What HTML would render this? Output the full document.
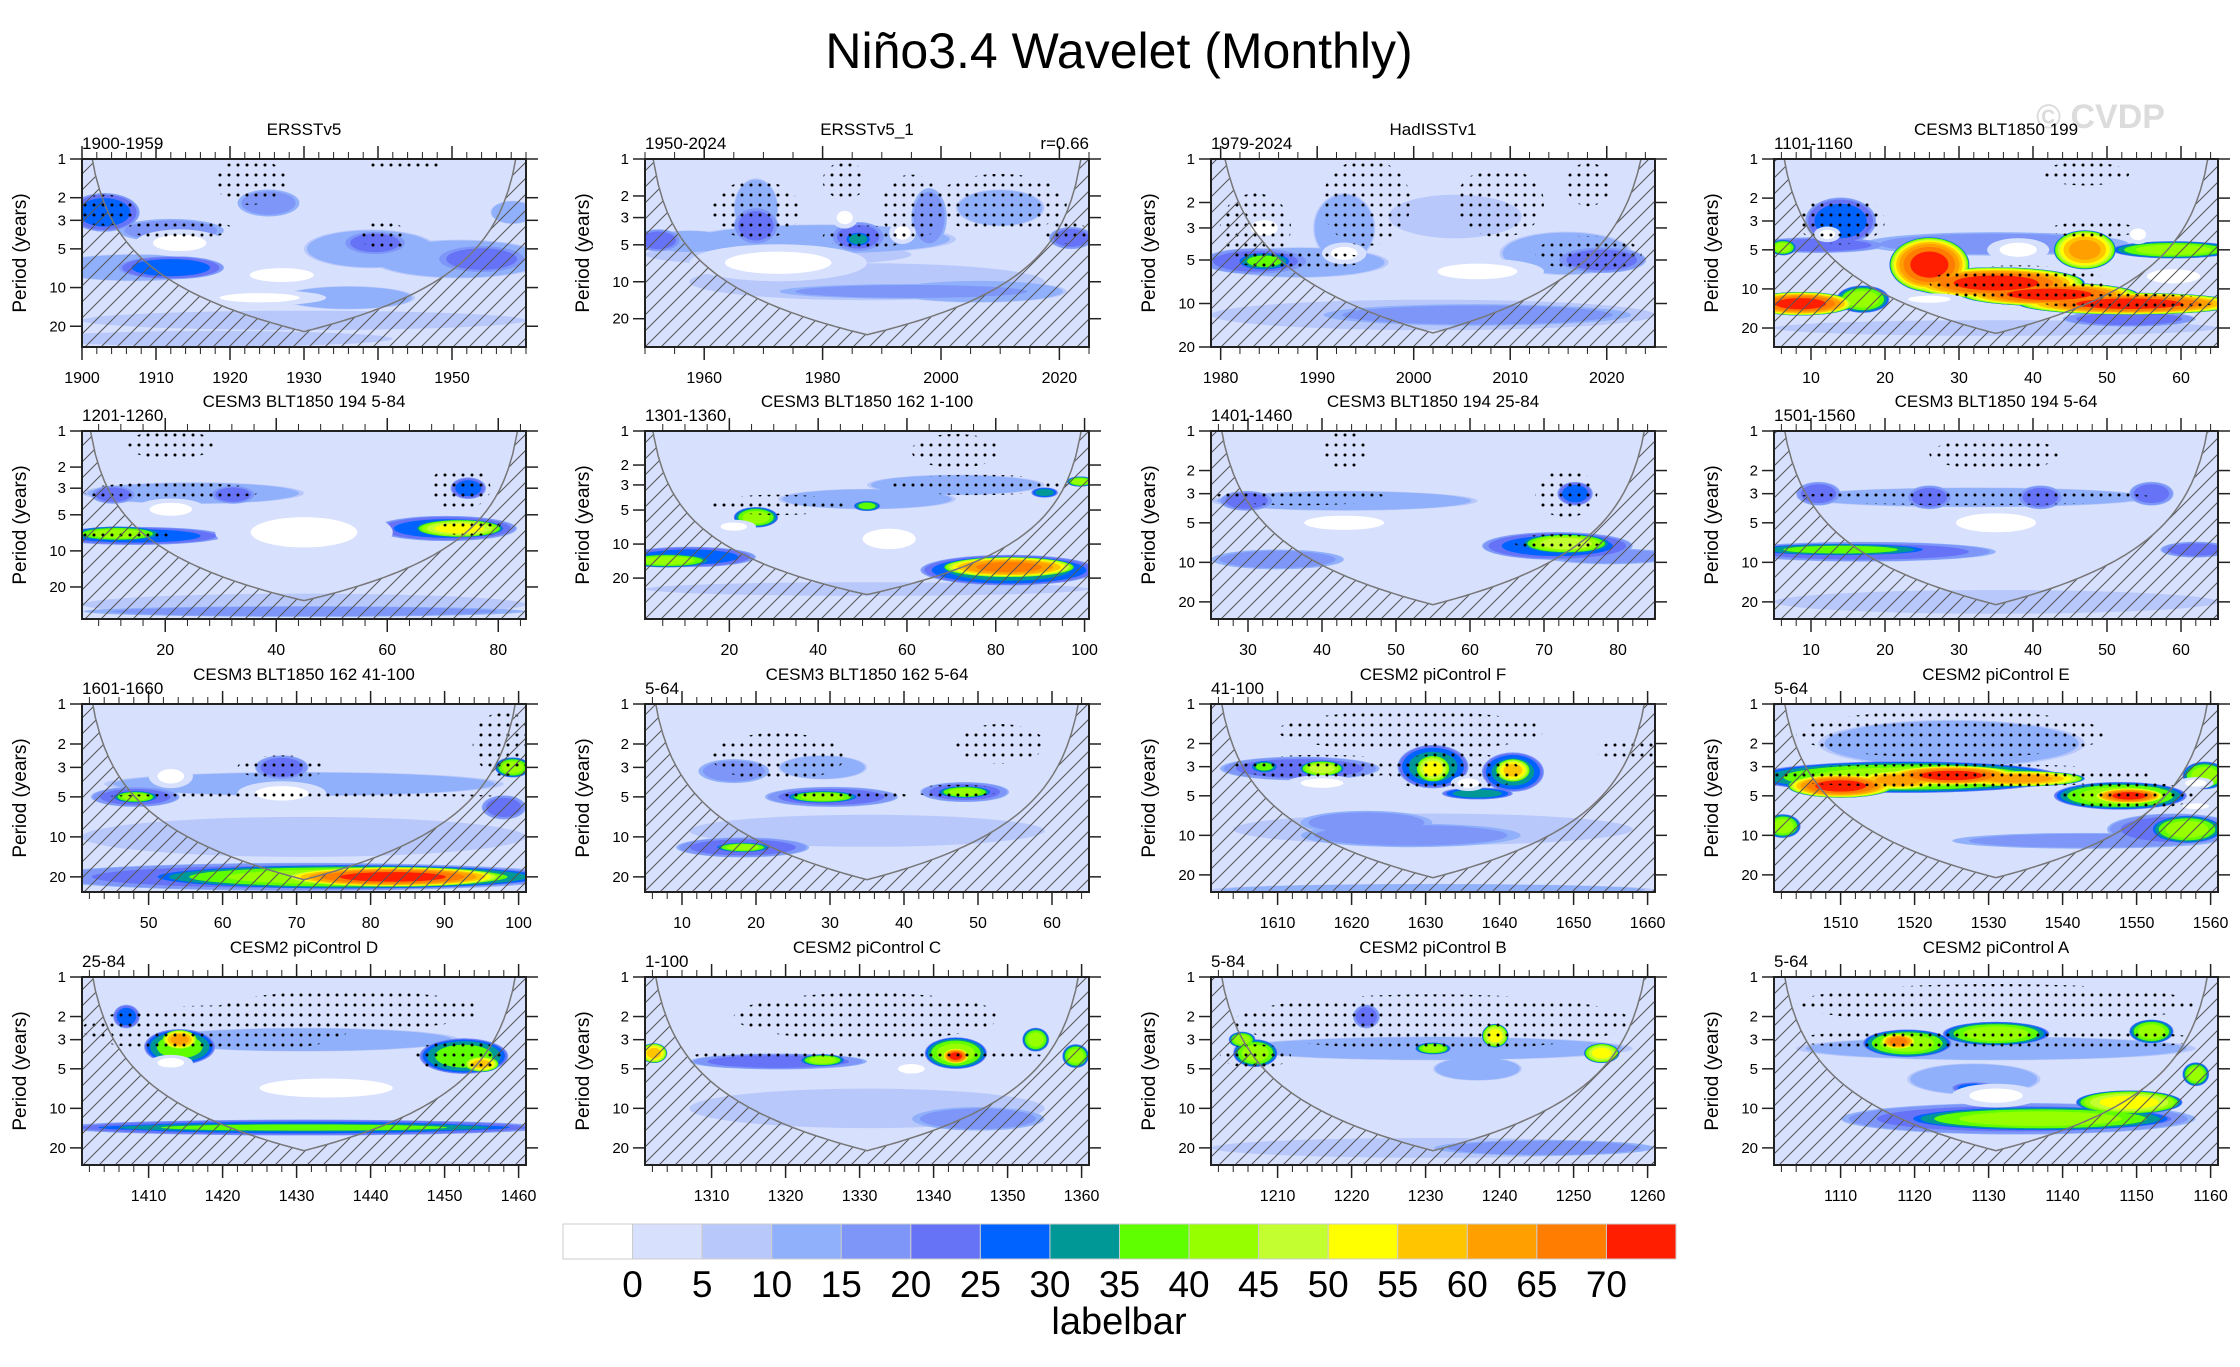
<!DOCTYPE html>
<html><head><meta charset="utf-8">
<style>
html,body{margin:0;padding:0;background:#fff;}
svg{display:block;font-family:"Liberation Sans",Arial,sans-serif;}
</style></head>
<body>
<svg id="fig" width="2240" height="1367" viewBox="0 0 2240 1367" xmlns="http://www.w3.org/2000/svg">
<defs>
<pattern id="dots" patternUnits="userSpaceOnUse" width="9" height="10"><circle cx="4" cy="5" r="1.5" fill="#000"/></pattern>
<pattern id="hatch" patternUnits="userSpaceOnUse" width="16" height="16"><path d="M-2,18 L18,-2 M-2,2 L2,-2 M14,18 L18,14" stroke="#555" stroke-width="1"/></pattern>
</defs>
<text x="1119" y="68" font-size="50" text-anchor="middle" fill="#000">Niño3.4 Wavelet (Monthly)</text>
<text x="2036" y="128" font-size="34" font-weight="bold" fill="#dcdcdc">© CVDP</text>
<g id="panels"></g>
<g id="labelbar"></g>
<text x="1119" y="1334" font-size="38" text-anchor="middle" fill="#000">labelbar</text>
</svg>
<script>
const colors = ["#ffffff","#d7e0fd","#b8c8fb","#90b0fb","#7d96f8","#6673f7","#0063ff","#009797","#5fff00","#96ff00","#c3ff30","#ffff00","#ffc600","#ffa000","#ff7d00","#ff1e00"];
const colorbarLabels = ["0","5","10","15","20","25","30","35","40","45","50","55","60","65","70"];
const panelTitles = ["ERSSTv5","ERSSTv5_1","HadISSTv1","CESM3 BLT1850 199","CESM3 BLT1850 194 5-84","CESM3 BLT1850 162 1-100","CESM3 BLT1850 194 25-84","CESM3 BLT1850 194 5-64","CESM3 BLT1850 162 41-100","CESM3 BLT1850 162 5-64","CESM2 piControl F","CESM2 piControl E","CESM2 piControl D","CESM2 piControl C","CESM2 piControl B","CESM2 piControl A"];
const panelPeriods = ["1900-1959","1950-2024","1979-2024","1101-1160","1201-1260","1301-1360","1401-1460","1501-1560","1601-1660","5-64","41-100","5-64","25-84","1-100","5-84","5-64"];
const panelXmin = [1900,1950,1979,5,5,1,25,5,41,5,1601,1501,1401,1301,1201,1101];
const panelXmax = [1960,2025,2025,65,85,101,85,65,101,65,1661,1561,1461,1361,1261,1161];
const panelMajor = [[1900,1910,1920,1930,1940,1950],[1960,1980,2000,2020],[1980,1990,2000,2010,2020],[10,20,30,40,50,60],[20,40,60,80],[20,40,60,80,100],[30,40,50,60,70,80],[10,20,30,40,50,60],[50,60,70,80,90,100],[10,20,30,40,50,60],[1610,1620,1630,1640,1650,1660],[1510,1520,1530,1540,1550,1560],[1410,1420,1430,1440,1450,1460],[1310,1320,1330,1340,1350,1360],[1210,1220,1230,1240,1250,1260],[1110,1120,1130,1140,1150,1160]];
const panelMinorStep = [2,5,2,2,4,5,2,2,2,2,2,2,2,2,2,2];
const panelPmax = [29,34,20,28,37,46,27,27,26,26,27,27,27,27,27,27];
const panelCoi = [22,27,16,22,26,28,21,21,21,21,21,21,21,21,21,21];
const periodTicks = [1,2,3,5,10,20];
const blobs = [
[[0.05,2.6,0.08,0.5,6],[0.2,3.6,0.12,0.3,4],[0.42,2.2,0.07,0.35,4],[0.2,7,0.12,0.3,6],[0.12,7,0.2,0.35,3],[0.66,4.5,0.07,0.3,5],[0.65,5,0.15,0.5,3],[0.9,6,0.1,0.35,5],[0.85,6,0.2,0.5,3],[0.6,12,0.15,0.3,3],[0.5,18,0.5,0.25,2],[0.3,25,0.4,0.2,2],[0.97,2.6,0.05,0.3,3]],
[[0.48,4.5,0.03,0.2,7],[0.48,4.3,0.06,0.4,5],[0.25,3.5,0.05,0.5,5],[0.25,2.5,0.05,0.8,3],[0.64,3,0.04,0.8,4],[0.96,4.4,0.05,0.3,5],[0.03,4.6,0.05,0.3,5],[0.1,4.7,0.1,0.3,3],[0.4,4.5,0.3,0.4,3],[0.6,12,0.3,0.2,4],[0.75,12,0.2,0.3,3],[0.5,10,0.4,0.5,2],[0.3,6,0.3,0.3,2],[0.8,2.5,0.1,0.5,3]],
[[0.12,5.1,0.06,0.2,8],[0.1,5.1,0.12,0.3,5],[0.2,5.2,0.2,0.35,3],[0.3,3,0.07,0.8,3],[0.88,5,0.1,0.3,5],[0.8,4.5,0.15,0.5,3],[0.6,12,0.35,0.25,4],[0.5,12,0.5,0.35,2],[0.55,2.5,0.15,0.5,2]],
[[0.35,6.5,0.09,0.7,15],[0.5,9,0.2,0.4,15],[0.62,11,0.2,0.3,15],[0.8,13,0.25,0.28,15],[0.06,13,0.12,0.3,15],[0.7,5,0.07,0.5,13],[0.9,5,0.14,0.22,9],[0.02,4.8,0.03,0.2,9],[0.2,12,0.06,0.35,9],[0.15,3,0.08,0.6,6],[0.1,4.6,0.15,0.2,5],[0.5,4.5,0.3,0.3,4],[0.8,17,0.15,0.2,5],[0.5,20,0.5,0.2,2]],
[[0.08,7.2,0.1,0.2,9],[0.12,7.5,0.2,0.25,6],[0.85,6.5,0.1,0.25,11],[0.82,6.5,0.16,0.35,6],[0.07,3.4,0.05,0.25,5],[0.34,3.4,0.05,0.25,5],[0.87,3,0.04,0.3,6],[0.25,3.3,0.25,0.3,3],[0.5,32,0.5,0.15,4],[0.5,28,0.5,0.3,2]],
[[0.82,16,0.15,0.3,14],[0.82,17,0.2,0.45,7],[0.05,14,0.1,0.2,9],[0.1,13,0.15,0.3,6],[0.25,5.8,0.05,0.3,9],[0.5,4.6,0.03,0.15,8],[0.9,3.5,0.03,0.15,7],[0.98,2.8,0.03,0.15,9],[0.7,3,0.2,0.3,3],[0.5,4,0.2,0.3,3],[0.5,25,0.5,0.2,2]],
[[0.8,7.2,0.1,0.25,10],[0.78,7.5,0.17,0.35,6],[0.08,3.4,0.06,0.25,5],[0.82,3,0.04,0.3,6],[0.15,9.5,0.15,0.25,4],[0.3,3.4,0.3,0.25,3],[0.9,9,0.15,0.2,4]],
[[0.15,8,0.2,0.15,8],[0.2,8.3,0.3,0.25,5],[0.1,3,0.05,0.3,5],[0.35,3.2,0.05,0.3,5],[0.6,3.2,0.05,0.3,5],[0.85,3,0.05,0.3,5],[0.45,3.2,0.4,0.25,3],[0.95,8,0.08,0.2,5],[0.5,20,0.5,0.3,2]],
[[0.7,20,0.25,0.25,15],[0.6,20,0.45,0.3,9],[0.5,20,0.6,0.35,5],[0.12,5,0.05,0.15,9],[0.12,5,0.1,0.25,5],[0.45,3,0.06,0.3,5],[0.97,3,0.04,0.25,9],[0.5,4,0.45,0.3,3],[0.95,6,0.05,0.3,5],[0.5,10,0.5,0.5,2]],
[[0.22,12,0.06,0.12,9],[0.22,12,0.15,0.25,5],[0.4,5,0.08,0.15,9],[0.42,5,0.15,0.25,5],[0.72,4.6,0.06,0.15,9],[0.72,4.6,0.1,0.25,5],[0.2,3.2,0.08,0.3,4],[0.4,3,0.1,0.3,3],[0.5,9,0.4,0.4,2]],
[[0.12,3,0.03,0.15,8],[0.25,3.1,0.05,0.2,10],[0.2,3.1,0.18,0.3,5],[0.5,3.1,0.04,0.35,11],[0.5,3,0.08,0.55,7],[0.68,3.2,0.04,0.3,12],[0.68,3.3,0.07,0.5,7],[0.6,4.8,0.08,0.15,7],[0.45,10,0.25,0.3,4],[0.35,8,0.15,0.3,4],[0.5,9,0.45,0.4,2],[0.5,26,0.5,0.15,3]],
[[0.15,4.2,0.12,0.3,15],[0.4,3.5,0.15,0.25,15],[0.55,3.7,0.15,0.2,13],[0.28,3.8,0.1,0.25,13],[0.3,3.6,0.35,0.4,9],[0.8,5,0.08,0.2,15],[0.78,5,0.15,0.35,9],[0.97,3.5,0.05,0.35,9],[0.93,9,0.08,0.35,9],[0.9,9,0.15,0.4,5],[0.02,8.5,0.04,0.3,9],[0.4,2,0.3,0.6,3],[0.7,11,0.3,0.2,4]],
[[0.22,3,0.04,0.25,13],[0.22,3.4,0.08,0.45,8],[0.9,4.6,0.04,0.2,12],[0.86,4,0.1,0.45,8],[0.1,2,0.03,0.3,6],[0.5,14,0.5,0.12,8],[0.5,14,0.55,0.2,6],[0.5,3,0.35,0.3,3]],
[[0.7,4,0.03,0.2,15],[0.7,3.8,0.07,0.4,9],[0.02,3.8,0.03,0.25,12],[0.4,4.3,0.05,0.15,9],[0.3,4.4,0.2,0.2,5],[0.88,3,0.03,0.3,9],[0.97,4,0.03,0.3,9],[0.75,12,0.15,0.3,4],[0.5,10,0.4,0.5,2]],
[[0.1,3.8,0.05,0.35,9],[0.07,3,0.03,0.2,9],[0.64,2.8,0.03,0.3,11],[0.5,3.5,0.04,0.15,9],[0.88,3.8,0.04,0.25,11],[0.5,3.5,0.45,0.3,3],[0.35,2,0.03,0.3,5],[0.75,20,0.25,0.2,4],[0.5,20,0.5,0.25,2],[0.6,5,0.1,0.3,3]],
[[0.28,3.1,0.04,0.2,14],[0.3,3.2,0.1,0.35,9],[0.5,2.7,0.12,0.3,9],[0.85,2.6,0.05,0.3,9],[0.8,9,0.12,0.3,11],[0.6,12,0.3,0.3,9],[0.55,12,0.4,0.4,5],[0.95,5.5,0.03,0.3,9],[0.5,3.5,0.45,0.3,3],[0.45,7,0.05,0.15,6],[0.45,6,0.15,0.4,3]]
];
const holes = [
[[0.22,4.5,0.1,0.35,0],[0.45,8,0.12,0.3,0],[0.4,12,0.15,0.2,0]],
[[0.45,3,0.03,0.3,0],[0.58,4,0.03,0.3,0],[0.3,7,0.2,0.5,0]],
[[0.3,4.5,0.05,0.25,0],[0.12,3,0.05,0.3,0],[0.6,6,0.15,0.3,0]],
[[0.55,5,0.07,0.3,0],[0.35,12,0.08,0.15,0],[0.9,8,0.1,0.3,0],[0.12,3.8,0.03,0.2,0],[0.82,3.8,0.03,0.25,0]],
[[0.2,4.5,0.08,0.3,0],[0.5,7,0.2,0.7,0]],
[[0.55,9,0.1,0.5,0],[0.2,7,0.05,0.2,0]],
[[0.3,5,0.15,0.3,0]],
[[0.5,5,0.15,0.4,0]],
[[0.45,4.7,0.1,0.3,0],[0.2,3.5,0.05,0.3,0]],
[],
[[0.58,4,0.04,0.2,0],[0.25,4,0.08,0.2,0]],
[[0.95,4,0.04,0.15,0],[0.95,6,0.05,0.12,0]],
[[0.2,4.5,0.05,0.2,0],[0.55,7,0.25,0.4,0]],
[[0.6,5,0.05,0.2,0]],
[],
[[0.5,8,0.1,0.3,0]]
];
const stipples = [
[[0.05,2.5,0.07,0.4],[0.22,3.5,0.12,0.25],[0.38,1.5,0.08,0.6],[0.68,4,0.05,0.4],[0.73,1.1,0.08,0.2]],
[[0.25,2.6,0.1,0.8],[0.5,4.3,0.1,0.3],[0.6,2.5,0.07,0.9],[0.8,2.3,0.15,0.8],[0.95,4,0.05,0.3],[0.45,1.5,0.05,0.5]],
[[0.1,3,0.08,0.8],[0.2,5,0.15,0.2],[0.35,2,0.1,1],[0.65,2,0.1,0.8],[0.85,4.5,0.12,0.4],[0.85,1.5,0.05,0.5]],
[[0.55,9,0.2,0.45],[0.8,12.5,0.2,0.2],[0.15,3,0.1,0.6],[0.72,3.5,0.1,0.2],[0.7,1.3,0.1,0.3]],
[[0.2,3.2,0.2,0.25],[0.1,7.5,0.1,0.2],[0.85,3,0.07,0.6],[0.88,6.5,0.08,0.2],[0.2,1.3,0.1,0.4]],
[[0.3,4.5,0.15,0.3],[0.75,3,0.2,0.3],[0.7,1.5,0.1,0.5]],
[[0.2,3.2,0.2,0.2],[0.8,3,0.07,0.6],[0.78,7,0.1,0.2],[0.3,1.4,0.05,0.5]],
[[0.45,3.2,0.4,0.2],[0.5,1.5,0.15,0.4]],
[[0.5,5,0.45,0.1],[0.45,3,0.1,0.3],[0.95,2,0.07,0.8]],
[[0.45,5,0.15,0.15],[0.7,4.5,0.1,0.15],[0.3,2.5,0.15,0.6],[0.8,2,0.1,0.5]],
[[0.25,3,0.2,0.3],[0.55,3.3,0.15,0.5],[0.45,1.6,0.3,0.5],[0.95,2.3,0.08,0.3]],
[[0.4,3.5,0.45,0.3],[0.8,5,0.15,0.35],[0.4,1.7,0.35,0.6]],
[[0.3,2.5,0.3,0.6],[0.85,4,0.1,0.4],[0.6,1.8,0.3,0.5]],
[[0.5,4,0.4,0.15],[0.5,2,0.3,0.6]],
[[0.5,2.2,0.45,0.7],[0.1,4,0.08,0.3]],
[[0.5,3,0.45,0.3],[0.5,1.6,0.45,0.5]]
];

const NS = "http://www.w3.org/2000/svg";
const colLeft = [82,645,1211,1774];
const rowTop = [159,431,704,977];
const PW = 444, PH = 188;
function mk(tag, attrs, parent){const e=document.createElementNS(NS,tag);for(const k in attrs)e.setAttribute(k,attrs[k]);parent.appendChild(e);return e;}
const root = document.getElementById("panels");

for (let i=0;i<16;i++){
  const L = colLeft[i%4], T = rowTop[Math.floor(i/4)];
  const x0 = panelXmin[i], x1 = panelXmax[i], pmax = panelPmax[i];
  const oct = PH/Math.log2(pmax);
  const xs = v => L + (v-x0)/(x1-x0)*PW;
  const xf = f => L + f*PW;
  const ys = p => T + Math.log2(p)*oct;
  const g = mk("g",{},root);
  
  
  const cp = mk("clipPath",{"id":"clip"+i},g);
  mk("rect",{"x":L,"y":T,"width":PW,"height":PH},cp);
  const plot = mk("g",{"clip-path":"url(#clip"+i+")"},g);
  
  
  mk("rect",{"x":L,"y":T,"width":PW,"height":PH,"fill":colors[1]},plot);
  const bl = blobs[i];
  for (let k=2;k<=15;k++){
    for (const b of bl){
      const lv=b[4]; if (lv<k) continue;
      const r=(k-2)/(lv-1); const s=Math.sqrt(1-Math.pow(r,3.5));
      const e = mk("ellipse",{"cx":xf(b[0]),"cy":ys(b[1]),"rx":b[2]*PW*s,"ry":b[3]*oct*s,"fill":colors[k]},plot);
      
      
    }
  }
  for (const h of holes[i]){
    mk("ellipse",{"cx":xf(h[0]),"cy":ys(h[1]),"rx":h[2]*PW,"ry":h[3]*oct,"fill":colors[1]},plot);
    const e = mk("ellipse",{"cx":xf(h[0]),"cy":ys(h[1]),"rx":h[2]*PW*0.6,"ry":h[3]*oct*0.6,"fill":colors[h[4]]},plot);
    
    
  }
  for (const s of stipples[i]){
    const e = mk("ellipse",{"cx":xf(s[0]),"cy":ys(s[1]),"rx":s[2]*PW,"ry":s[3]*oct,"fill":"url(#dots)"},plot);
    
    
  }
  let pts=[];
  for (let j=0;j<=100;j++){
    const f=j/100; const d=Math.min(f,1-f)*2;
    const p=Math.max(panelCoi[i]*d,0.6);
    pts.push([xf(f), Math.max(ys(p), T-20)]);
  }
  const line = pts.map(q=>q[0].toFixed(1)+","+q[1].toFixed(1)).join(" ");
  const hatch = mk("polygon",{"points":line+" "+(L+PW)+","+(T+PH+5)+" "+L+","+(T+PH+5),"fill":"url(#hatch)"},plot);
  
  
  const coi = mk("polyline",{"points":line,"fill":"none","stroke":"#777","stroke-width":1.5},plot);
  
  
  const fr = mk("rect",{"x":L,"y":T,"width":PW,"height":PH,"fill":"none","stroke":"#222","stroke-width":2},g);
  
  
  for (const p of periodTicks){
    const y=ys(p);
    mk("line",{"x1":L-12,"y1":y,"x2":L,"y2":y,"stroke":"#222","stroke-width":1.5},g);
    mk("line",{"x1":L+PW,"y1":y,"x2":L+PW+12,"y2":y,"stroke":"#222","stroke-width":1.5},g);
    const t = mk("text",{"x":L-16,"y":y+5,"font-size":15,"text-anchor":"end","fill":"#000"},g);
    t.textContent=p;
    
    
  }
  const yt = mk("text",{"x":0,"y":0,"font-size":19,"text-anchor":"middle","fill":"#000","transform":"translate("+(L-56)+","+(T+PH/2)+") rotate(-90)"},g);
  yt.textContent="Period (years)";
  
  
  const st=panelMinorStep[i];
  for (let v=Math.ceil(x0/st)*st; v<=x1; v+=st){
    const x=xs(v);
    mk("line",{"x1":x,"y1":T+PH,"x2":x,"y2":T+PH+7,"stroke":"#222","stroke-width":1},g);
    mk("line",{"x1":x,"y1":T,"x2":x,"y2":T-7,"stroke":"#222","stroke-width":1},g);
  }
  for (const v of panelMajor[i]){
    const x=xs(v);
    mk("line",{"x1":x,"y1":T+PH,"x2":x,"y2":T+PH+13,"stroke":"#222","stroke-width":1.5},g);
    mk("line",{"x1":x,"y1":T,"x2":x,"y2":T-13,"stroke":"#222","stroke-width":1.5},g);
    const t = mk("text",{"x":x,"y":T+PH+36,"font-size":16,"text-anchor":"middle","fill":"#000"},g);
    t.textContent=v;
    
    
  }
  const tt = mk("text",{"x":L+PW/2,"y":T-24,"font-size":17,"text-anchor":"middle","fill":"#000"},g);
  tt.textContent=panelTitles[i];
  
  
  const lt = mk("text",{"x":L,"y":T-10,"font-size":17,"fill":"#000"},g);
  lt.textContent=panelPeriods[i];
  
  
  if (i===1){
    const rt = mk("text",{"x":L+PW,"y":T-10,"font-size":17,"text-anchor":"end","fill":"#000"},g);
    rt.textContent="r=0.66";
    
    
  }
}
const cb = document.getElementById("labelbar");
const cbL=563, cbW=(1676-563)/16, cbT=1224, cbH=35;
for (let k=0;k<16;k++){
  const r = mk("rect",{"x":cbL+k*cbW,"y":cbT,"width":cbW,"height":cbH,"fill":colors[k],"stroke":"#ccc","stroke-width":1},cb);
  
  
}
for (let k=0;k<colorbarLabels.length;k++){
  const t = mk("text",{"x":cbL+(k+1)*cbW,"y":1297,"font-size":37,"text-anchor":"middle","fill":"#000"},cb);
  t.textContent=colorbarLabels[k];
  
  
}
</script>
</body></html>
